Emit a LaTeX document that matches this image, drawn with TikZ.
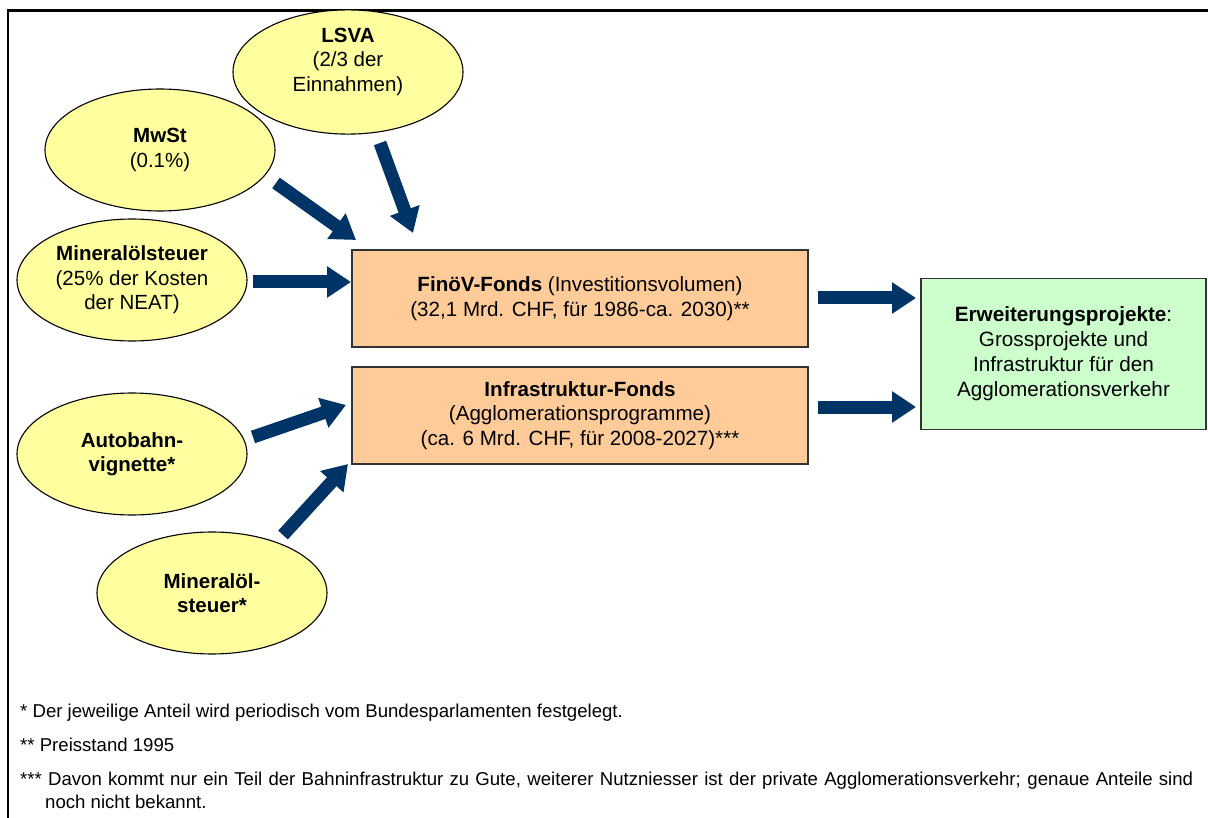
\documentclass[tikz,border=0pt]{standalone}
\usepackage{fontspec}
\setmainfont{Liberation Sans}
\usetikzlibrary{shapes.geometric,arrows.meta}
\definecolor{ellfill}{RGB}{255,255,160}
\definecolor{boxfill}{RGB}{255,204,153}
\definecolor{grnfill}{RGB}{204,255,204}
\definecolor{navy}{RGB}{0,51,102}
\tikzset{
  src/.style={ellipse, draw=black, line width=1.1pt, fill=ellfill, minimum width=230pt, minimum height=122pt, inner sep=0pt, align=center, font=\fontsize{20.5}{24.5}\selectfont},
  fund/.style={rectangle, draw=black!80, line width=1.3pt, fill=boxfill, minimum width=456pt, minimum height=97pt, inner sep=0pt, align=center, font=\fontsize{20.6}{24.8}\selectfont},
  goal/.style={rectangle, draw=black!80, line width=1.3pt, fill=grnfill, minimum width=285pt, minimum height=151pt, inner sep=0pt, align=center, font=\fontsize{20.7}{25}\selectfont},
  flow/.style={draw=navy, line width=13pt, -{Triangle[length=24pt,width=30pt]}},
  note/.style={anchor=base west, inner sep=0pt, font=\fontsize{18.6}{22.5}\selectfont, align=left}
}
\begin{document}
\begin{tikzpicture}[x=1pt,y=-1pt]
\useasboundingbox (0,0) rectangle (1208,818);
% frame
\draw[line width=2.5pt] (8,818) -- (8,10.5) -- (1208,10.5);

% sources
\node[src] (lsva) at (348,72) {\textbf{LSVA}\\(2/3 der\\Einnahmen)\\\mbox{}};
\node[src] (mwst) at (160,150) {\textbf{MwSt}\\(0.1\%)};
\node[src] (mins) at (132,280) {\textbf{Mineralölsteuer}\\(25\% der Kosten\\der NEAT)};
\node[src] (auto) at (132,454) {\textbf{Autobahn-}\\\textbf{vignette*}};
\node[src] (mins2) at (212,593) {\textbf{Mineralöl-}\\\textbf{steuer*}};

% funds
\node[fund] (finoev) at (580,298.5) {\textbf{FinöV-Fonds} (Investitionsvolumen)\\(32,1 Mrd. CHF, für 1986-ca. 2030)**};
\node[fund] (infra) at (580,415.5) {\textbf{Infrastruktur-Fonds}\\(Agglomerationsprogramme)\\(ca. 6 Mrd. CHF, für 2008-2027)***};

% goal
\node[goal] (erw) at (1063.5,354) {\textbf{Erweiterungsprojekte}:\\Grossprojekte und\\Infrastruktur für den\\Agglomerationsverkehr};

% arrow ends
\coordinate (a1s) at (380,143);  \coordinate (a1e) at (413,233);
\coordinate (a2s) at (276,183);  \coordinate (a2e) at (356,240);
\coordinate (a3s) at (253,282);  \coordinate (a3e) at (351,282);
\coordinate (a4s) at (253,437);  \coordinate (a4e) at (346,405);
\coordinate (a5s) at (283,535);  \coordinate (a5e) at (348,464);
\coordinate (a6s) at (818,298);  \coordinate (a6e) at (916,298);
\coordinate (a7s) at (818,407);  \coordinate (a7e) at (916,407);

\draw[flow] (a1s) -- (a1e);
\draw[flow] (a2s) -- (a2e);
\draw[flow] (a3s) -- (a3e);
\draw[flow] (a4s) -- (a4e);
\draw[flow] (a5s) -- (a5e);
\draw[flow] (a6s) -- (a6e);
\draw[flow] (a7s) -- (a7e);

% footnotes
\node[note] (n1) at (20,717) {* Der jeweilige Anteil wird periodisch vom Bundesparlamenten festgelegt.};
\node[note] (n2) at (20,751) {** Preisstand 1995};
\node[note] (n3) at (20,785) {\makebox[1173pt][s]{*** Davon kommt nur ein Teil der Bahninfrastruktur zu Gute, weiterer Nutzniesser ist der private Agglomerationsverkehr; genaue Anteile sind}};
\node[note] (n4) at (45,808) {noch nicht bekannt.};
\end{tikzpicture}
\end{document}
